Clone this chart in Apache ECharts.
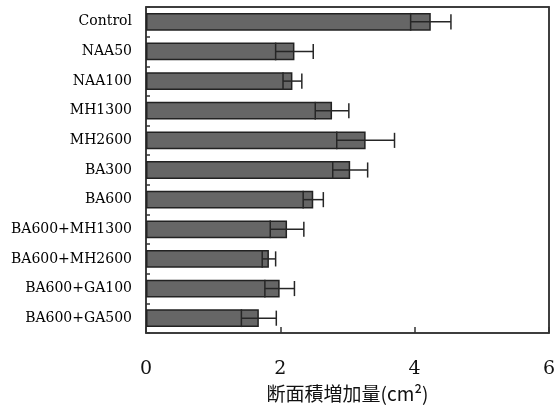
<!DOCTYPE html>
<html>
<head>
<meta charset="utf-8">
<script src="https://cdn.jsdelivr.net/npm/echarts@6/dist/echarts.min.js"></script>
<style>html,body{margin:0;padding:0;background:#fff}#c{width:555px;height:409px}</style>
</head>
<body>
<div id="c"></div>
<script>
var categories = ['Control','NAA50','NAA100','MH1300','MH2600','BA300','BA600','BA600+MH1300','BA600+MH2600','BA600+GA100','BA600+GA500'];
var means = [4.24, 2.21, 2.18, 2.77, 3.27, 3.04, 2.49, 2.10, 1.83, 1.99, 1.68];
var errors = [0.30, 0.28, 0.14, 0.25, 0.43, 0.26, 0.15, 0.25, 0.10, 0.22, 0.26];
var xTicks = [0, 2, 4, 6];

var chart = echarts.init(document.getElementById('c'));
var errData = categories.map(function (c, i) { return [i, means[i], errors[i]]; });
var lineStyle = { stroke: '#262626', lineWidth: 1.5, fill: null };
var axisLn = { show: true, onZero: false, lineStyle: { color: '#333', width: 1.5 } };

chart.setOption({
  animation: false,
  grid: { left: 146, right: 6, top: 7, bottom: 76, containLabel: false, outerBoundsMode: 'none',
          show: true, borderColor: '#333', borderWidth: 1.5, backgroundColor: 'transparent' },
  xAxis: [{
    type: 'value', min: xTicks[0], max: xTicks[xTicks.length - 1], interval: 2,
    axisLine: axisLn,
    axisTick: { show: true, inside: true, length: 6, lineStyle: { color: '#333', width: 1.5 } },
    splitLine: { show: false },
    axisLabel: { margin: 27, fontSize: 19, fontFamily: 'DejaVu Serif', color: '#111' },
    name: '断面積増加量(cm²)', nameLocation: 'middle', nameGap: 50,
    nameTextStyle: { fontSize: 19, fontFamily: 'Noto Sans CJK JP', color: '#111' }
  }, {
    type: 'value', position: 'top', min: 0, max: 6,
    axisLine: axisLn, axisTick: { show: false }, axisLabel: { show: false }, splitLine: { show: false }
  }],
  yAxis: [{
    type: 'category', data: categories, inverse: true,
    axisLine: axisLn,
    axisTick: { show: true, inside: true, length: 4, lineStyle: { color: '#333', width: 1.5 } },
    axisLabel: { margin: 14, fontSize: 14, fontFamily: 'DejaVu Serif', color: '#000' }
  }, {
    type: 'category', data: categories, inverse: true, position: 'right',
    axisLine: axisLn, axisTick: { show: false }, axisLabel: { show: false }
  }],
  series: [
    {
      type: 'bar', data: means, barWidth: '60%',
      itemStyle: { color: '#666666', borderColor: '#222', borderWidth: 1.5 }
    },
    {
      type: 'custom', data: errData, z: 5,
      renderItem: function (params, api) {
        var idx = api.value(0), m = api.value(1), e = api.value(2);
        var lo = api.coord([m - e, idx]);
        var hi = api.coord([m + e, idx]);
        var h = api.size([0, 1])[1] * 0.6;
        var capH = h * 0.85;
        var y = lo[1];
        return {
          type: 'group',
          children: [
            { type: 'line', shape: { x1: lo[0], y1: y - h / 2, x2: lo[0], y2: y + h / 2 }, style: lineStyle },
            { type: 'line', shape: { x1: lo[0], y1: y, x2: hi[0], y2: y }, style: lineStyle },
            { type: 'line', shape: { x1: hi[0], y1: y - capH / 2, x2: hi[0], y2: y + capH / 2 }, style: lineStyle }
          ]
        };
      }
    }
  ]
});
</script>
</body>
</html>
